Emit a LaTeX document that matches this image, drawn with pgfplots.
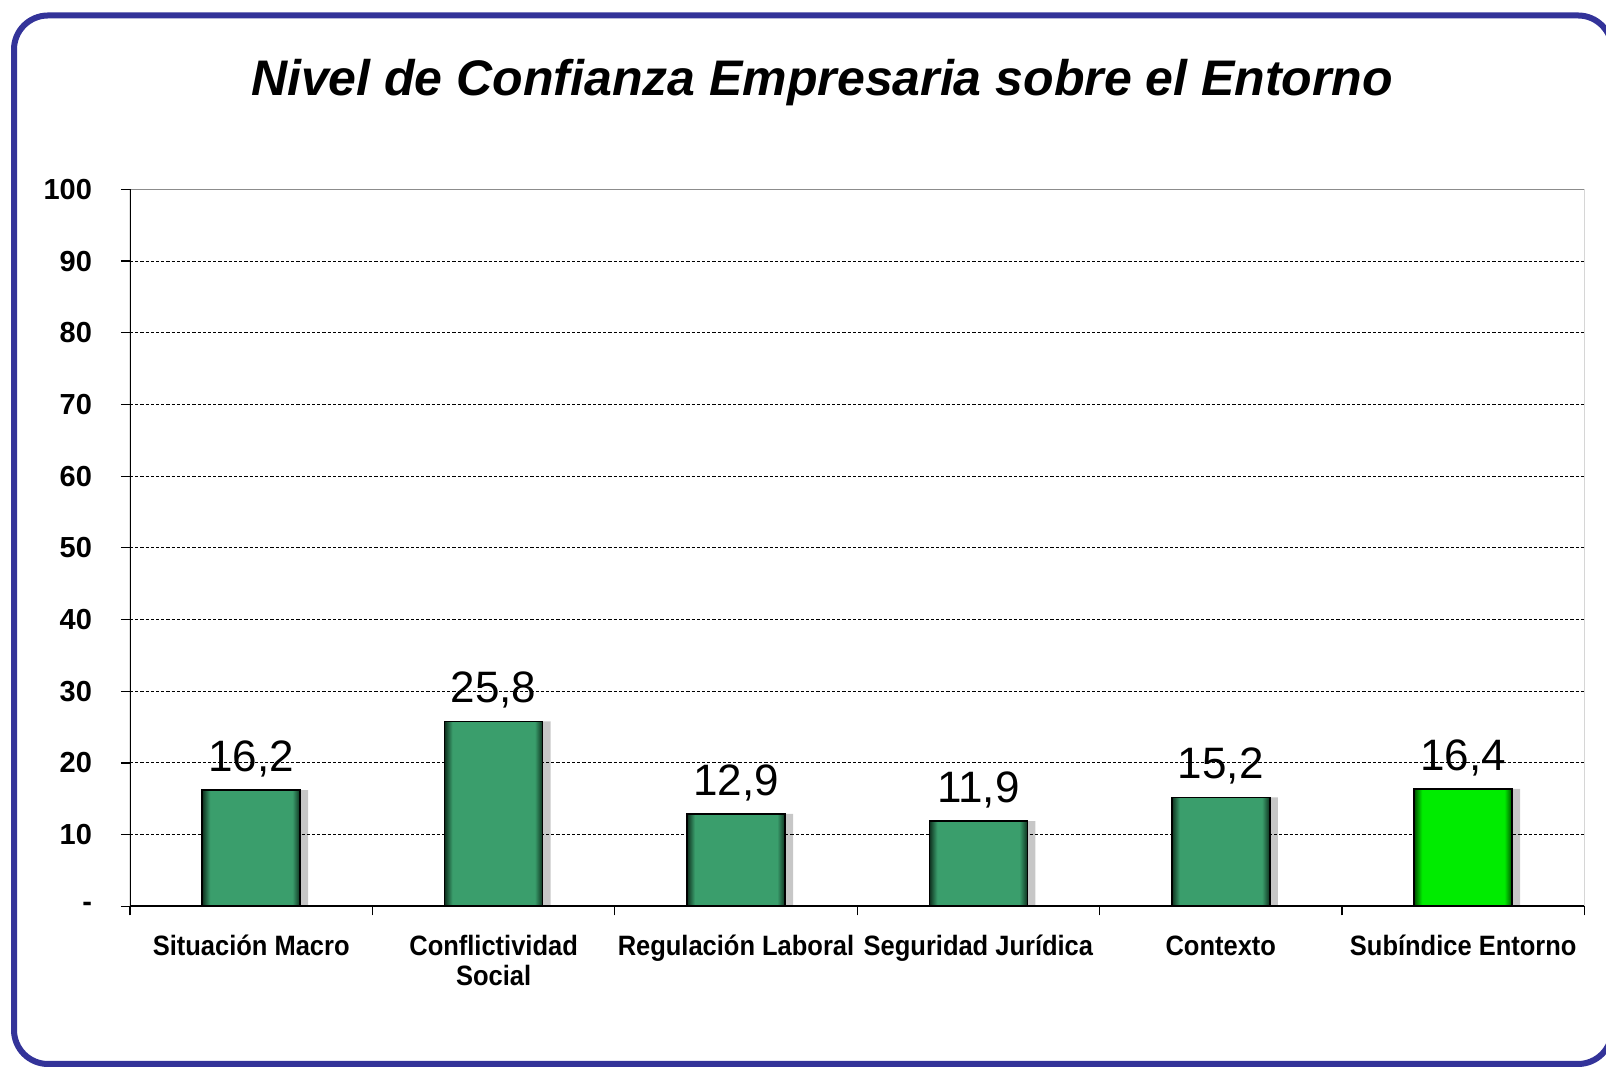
\documentclass[border=0pt]{standalone}
\usepackage{pgfplots}
\pgfplotsset{compat=1.18}
\usepackage{fontspec}
\setmainfont{Liberation Sans}
\newfontfamily\narrowfont[FakeStretch=0.91]{Liberation Sans}
\definecolor{framecol}{RGB}{51,51,153}
\definecolor{gdark}{RGB}{14,48,30}
\definecolor{gmid}{RGB}{58,158,108}
\definecolor{ldark}{RGB}{0,80,0}
\definecolor{lmid}{RGB}{0,236,0}
\pgfdeclarehorizontalshading{barshadeA}{100bp}{color(0bp)=(gdark); color(25bp)=(gdark); color(29bp)=(gmid); color(71bp)=(gmid); color(75bp)=(gdark); color(100bp)=(gdark)}
\pgfdeclarehorizontalshading{barshadeB}{100bp}{color(0bp)=(ldark); color(25bp)=(ldark); color(29bp)=(lmid); color(71bp)=(lmid); color(75bp)=(ldark); color(100bp)=(ldark)}
\pgfplotsset{
  valnode/.style={nodes near coords,
    every node near coord/.append style={font=\fontsize{22}{24}\selectfont, anchor=base, inner sep=0pt, yshift=9.3pt, text=black,
    /pgf/number format/.cd, fixed, precision=1, fixed zerofill, use comma, assume math mode=true}},
  barA/.style={bar shift=0pt, shading=barshadeA, draw=black, line width=0.8pt, valnode},
  barB/.style={bar shift=0pt, shading=barshadeB, draw=black, line width=0.8pt, valnode},
  shadow/.style={bar shift=4pt, fill=black, fill opacity=0.22, draw=none},
}
\begin{document}
\begin{tikzpicture}
\useasboundingbox (0,0) rectangle (803pt,534pt);
\begin{scope}
\clip (0,0) rectangle (803pt,534pt);
\draw[framecol, line width=3pt, rounded corners=17pt] (7pt,2pt) rectangle (806pt,526.25pt);
\end{scope}
\node[anchor=base, font=\bfseries\itshape\fontsize{25}{28}\selectfont] at (411pt,486.4pt) {Nivel de Confianza Empresaria sobre el Entorno};
\begin{axis}[
  at={(65pt,80.8pt)}, anchor=south west,
  scale only axis, width=727.2pt, height=358.5pt,
  xmin=-0.5, xmax=5.5, ymin=0, ymax=100,
  axis line style={draw=none},
  ytick={0,10,...,100},
  yticklabels={-,10,20,30,40,50,60,70,80,90,100},
  ymajorgrids,
  grid style={black, line width=0.5pt, dash pattern=on 1.6pt off 1pt},
  tick align=outside, major tick length=4.5pt, tick pos=left,
  tick style={black, line width=0.6pt},
  xtick={-0.5,0.5,...,5.5}, xticklabels={},
  extra x ticks={0,1,2,3,4,5},
  extra x tick labels={Situación Macro,{Conflictividad\\Social},Regulación Laboral,Seguridad Jurídica,Contexto,Subíndice Entorno},
  extra x tick style={major tick length=0pt, grid=none},
  xticklabel style={font=\narrowfont\bfseries\fontsize{14}{15}\selectfont, align=center, yshift=-11pt},
  yticklabel style={font=\bfseries\fontsize{14.5}{16}\selectfont, xshift=-11pt},
  ybar, bar width=49pt,
]
\addplot[shadow] coordinates {(0,16.2) (1,25.8) (2,12.9) (3,11.9) (4,15.2) (5,16.4)};
\addplot[barA] coordinates {(0,16.2)};
\addplot[barA] coordinates {(1,25.8)};
\addplot[barA] coordinates {(2,12.9)};
\addplot[barA] coordinates {(3,11.9)};
\addplot[barA] coordinates {(4,15.2)};
\addplot[barB] coordinates {(5,16.4)};
\draw[black!45, line width=0.8pt] (rel axis cs:0,1) -- (rel axis cs:1,1) -- (rel axis cs:1,0);
\draw[black, line width=1pt] (rel axis cs:0,1) -- (rel axis cs:0,0) -- (rel axis cs:1,0);
\end{axis}
\end{tikzpicture}
\end{document}
